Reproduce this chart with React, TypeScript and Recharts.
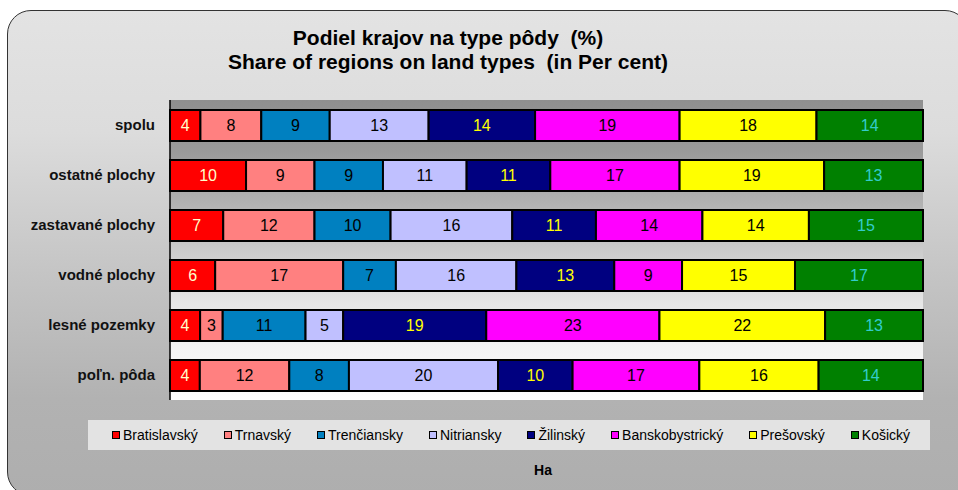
import { BarChart, Bar, XAxis, YAxis, CartesianGrid, LabelList } from "recharts"

const landTypes = ["spolu", "ostatné plochy", "zastavané plochy", "vodné plochy", "lesné pozemky", "poľn. pôda"]
const regions = ["Bratislavský", "Trnavský", "Trenčiansky", "Nitriansky", "Žilinský", "Banskobystrický", "Prešovský", "Košický"]

const bratislavsky = [4, 10, 7, 6, 4, 4]
const trnavsky = [8, 9, 12, 17, 3, 12]
const trenciansky = [9, 9, 10, 7, 11, 8]
const nitriansky = [13, 11, 16, 16, 5, 20]
const zilinsky = [14, 11, 11, 13, 19, 10]
const banskobystricky = [19, 17, 14, 9, 23, 17]
const presovsky = [18, 19, 14, 15, 22, 16]
const kosicky = [14, 13, 15, 17, 13, 14]

const seriesValues = [bratislavsky, trnavsky, trenciansky, nitriansky, zilinsky, banskobystricky, presovsky, kosicky]
const regionColors = ["#FF0000", "#FF8080", "#0080C0", "#C0C0FF", "#000080", "#FF00FF", "#FFFF00", "#008000"]
const labelColors = ["#FFFFCC", "#000000", "#000000", "#000000", "#FFFF00", "#000000", "#000000", "#33CCCC"]

const chartData = landTypes.map((name, i) => {
  const row: Record<string, string | number> = { name }
  regions.forEach((r, k) => { row[r] = seriesValues[k][i] })
  return row
})

const font = 'Liberation Sans, Arial, sans-serif'

// plain svg text so the category names keep the Arial metrics
const CategoryTick = (props: any) => {
  const { x, y, payload } = props
  return (
    <text x={x} y={y} dy="0.355em" textAnchor="end" fontSize={15} fontWeight="bold" fill="#111" fontFamily={font}>
      {payload.value}
    </text>
  )
}

export default function App() {
  return (
    <div style={{ position: 'absolute', left: 0, top: 0, width: 958, height: 490, overflow: 'hidden', fontFamily: font, background: '#fff' }}>
      <svg width={0} height={0} style={{ position: 'absolute' }}>
        <defs>
          <linearGradient id="plotBg" x1="0" y1="0" x2="0" y2="1">
            <stop offset="0" stopColor="#8f8f8f" />
            <stop offset="0.17" stopColor="#9a9a9a" />
            <stop offset="0.33" stopColor="#b0b0b0" />
            <stop offset="0.5" stopColor="#cbcbcb" />
            <stop offset="0.67" stopColor="#e5e5e5" />
            <stop offset="0.83" stopColor="#f4f4f4" />
            <stop offset="1" stopColor="#ffffff" />
          </linearGradient>
        </defs>
      </svg>

      {/* rounded panel */}
      <div style={{
        position: 'absolute', left: 7, top: 10, width: 962, height: 486,
        borderRadius: 24, border: '1.5px solid #333', boxSizing: 'border-box',
        background: 'linear-gradient(to bottom, #e3e3e3 0%, #dcdcdc 25%, #c4c4c4 55%, #b2b2b2 80%, #aeaeae 100%)'
      }} />

      <div style={{
        position: 'absolute', left: 0, top: 26, width: 896, textAlign: 'center',
        fontSize: 21, fontWeight: 'bold', lineHeight: '24px', whiteSpace: 'pre', color: '#000'
      }}>
        {"Podiel krajov na type pôdy  (%)\nShare of regions on land types  (in Per cent)"}
      </div>

      <div style={{ position: 'absolute', left: 0, top: 0 }}>
        <BarChart
          width={958}
          height={490}
          data={chartData}
          layout="vertical"
          stackOffset="expand"
          margin={{ top: 100, right: 35, left: 10, bottom: 90 }}
        >
          <CartesianGrid horizontal={false} vertical={false} fill="url(#plotBg)" fillOpacity={1} />
          <XAxis type="number" domain={[0, 1]} tick={false} tickLine={false} height={0} axisLine={{ stroke: '#000', strokeWidth: 1.5 }} />
          <XAxis xAxisId="top" orientation="top" type="number" domain={[0, 1]} tick={false} tickLine={false} height={0} axisLine={{ stroke: '#000', strokeWidth: 1.5 }} />
          <YAxis
            type="category"
            dataKey="name"
            width={160}
            tickLine={false}
            tickSize={0}
            tickMargin={15}
            axisLine={{ stroke: '#000', strokeWidth: 1.5 }}
            tick={<CategoryTick />}
          />
          <YAxis yAxisId="right" orientation="right" type="category" dataKey="name" width={0} tick={false} tickLine={false} axisLine={{ stroke: '#000', strokeWidth: 1.5 }} />
          {regions.map((r, k) => (
            <Bar
              key={r}
              dataKey={r}
              stackId="land"
              fill={regionColors[k]}
              stroke="#000"
              strokeWidth={2}
              barSize={31}
              isAnimationActive={false}
            >
              <LabelList dataKey={r} position="center" fill={labelColors[k]} fontSize={16} fontFamily={font} />
            </Bar>
          ))}
        </BarChart>
      </div>

      {/* legend */}
      <div style={{
        position: 'absolute', left: 88, top: 420, width: 842, height: 30, background: '#e3e3e3',
        display: 'flex', alignItems: 'center', justifyContent: 'flex-start', paddingLeft: 24, boxSizing: 'border-box',
        gap: 26, fontSize: 14, color: '#000'
      }}>
        {regions.map((r, k) => (
          <div key={r} style={{ display: 'flex', alignItems: 'center' }}>
            <span style={{ display: 'inline-block', width: 8, height: 8, background: regionColors[k], border: '1.5px solid #000', boxSizing: 'border-box', marginRight: 3 }} />
            <span>{r}</span>
          </div>
        ))}
      </div>

      <div style={{ position: 'absolute', left: 493, width: 100, top: 462, textAlign: 'center', fontSize: 14, fontWeight: 'bold', color: '#000' }}>Ha</div>
    </div>
  )
}
